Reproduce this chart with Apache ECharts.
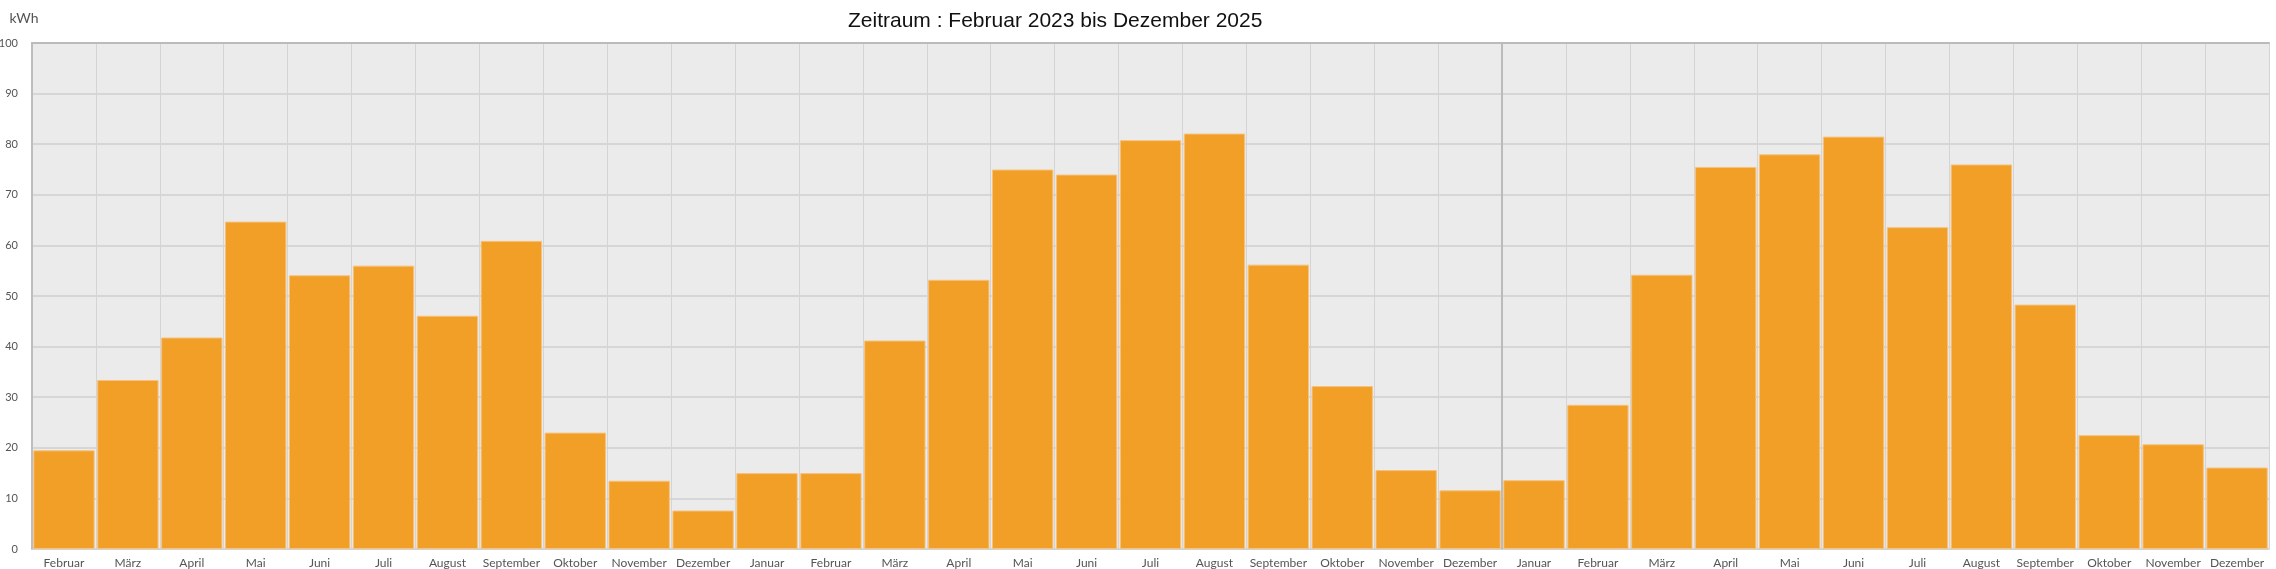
<!DOCTYPE html>
<html>
<head>
<meta charset="utf-8">
<script src="https://cdn.jsdelivr.net/npm/echarts@6/dist/echarts.min.js"></script>
<style>
  html, body { margin: 0; padding: 0; background: #fff; }
  #container { width: 2276px; height: 569px; }
</style>
</head>
<body>
<div id="container"></div>
<script>
var months = ['Februar','März','April','Mai','Juni','Juli','August','September','Oktober','November','Dezember',
    'Januar','Februar','März','April','Mai','Juni','Juli','August','September','Oktober','November','Dezember',
    'Januar','Februar','März','April','Mai','Juni','Juli','August','September','Oktober','November','Dezember'];

var kwh2023 = [19.5, 33.4, 41.8, 64.7, 54.1, 56.0, 46.1, 60.9, 23.0, 13.5, 7.6];
var kwh2024 = [15.0, 15.0, 41.2, 53.2, 75.0, 74.0, 80.8, 82.1, 56.2, 32.2, 15.6, 11.6];
var kwh2025 = [13.6, 28.5, 54.2, 75.5, 78.0, 81.5, 63.6, 76.0, 48.3, 22.5, 20.7, 16.1];

// Position (in months) where the 2025 block starts
var yearBreak = [kwh2023.length + kwh2024.length];

var yTicks = { min: 0, max: 100, interval: 10 };

var values = kwh2023.concat(kwh2024, kwh2025);

var dom = document.getElementById("container");
var myChart = echarts.init(dom);
var option = {
    animation: false,
    title: {
        text: 'Zeitraum : Februar 2023 bis Dezember 2025',
        left: 843,
        top: 6,
        textStyle: {
            fontFamily: 'Liberation Sans',
            fontWeight: 'normal',
            fontSize: 21,
            color: '#111'
        }
    },
    grid: {
        left: 32,
        right: 7,
        top: 43,
        bottom: 20,
        outerBoundsMode: 'none',
        show: true,
        backgroundColor: '#ECEBEC',
        borderWidth: 0
    },
    xAxis: [{
        type: 'category',
        data: months,
        axisTick: { show: false },
        axisLine: { show: true, lineStyle: { color: '#D2D2D2', width: 1 } },
        axisLabel: {
            interval: 0,
            margin: 8,
            fontFamily: 'Lato',
            fontSize: 12,
            color: '#555'
        },
        splitLine: { show: true, interval: 0, lineStyle: { color: '#D4D4D4', width: 1 } }
    }, {
        type: 'value',
        position: 'top',
        min: 0,
        max: months.length,
        axisLine: { show: true, lineStyle: { color: '#BBBBBB', width: 2 } },
        axisTick: { show: false },
        axisLabel: { show: false },
        splitLine: { show: false }
    }],
    yAxis: {
        type: 'value',
        min: yTicks.min,
        max: yTicks.max,
        interval: yTicks.interval,
        name: 'kWh',
        nameLocation: 'end',
        nameGap: 18,
        nameTextStyle: {
            fontFamily: 'Lato',
            fontSize: 14,
            color: '#555',
            padding: [0, 16, 0, 0]
        },
        axisLine: { show: true, lineStyle: { color: '#BDBDBD', width: 2 } },
        axisTick: { show: false },
        axisLabel: {
            margin: 14,
            fontFamily: 'Lato',
            fontSize: 11,
            color: '#555'
        },
        splitLine: { show: true, lineStyle: { color: '#D6D6D6', width: 2 } }
    },
    series: [{
        type: 'bar',
        data: values,
        barCategoryGap: '4%',
        itemStyle: {
            color: '#F29F27',
            borderColor: '#F6C27C',
            borderWidth: 1
        }
    }, {
        type: 'line',
        xAxisIndex: 1,
        data: [],
        markLine: {
            symbol: 'none',
            silent: true,
            label: { show: false },
            lineStyle: { color: '#BBBBBB', width: 2, type: 'solid' },
            data: yearBreak.map(function (v) { return { xAxis: v }; })
        }
    }]
};
myChart.setOption(option, true);
</script>
</body>
</html>
